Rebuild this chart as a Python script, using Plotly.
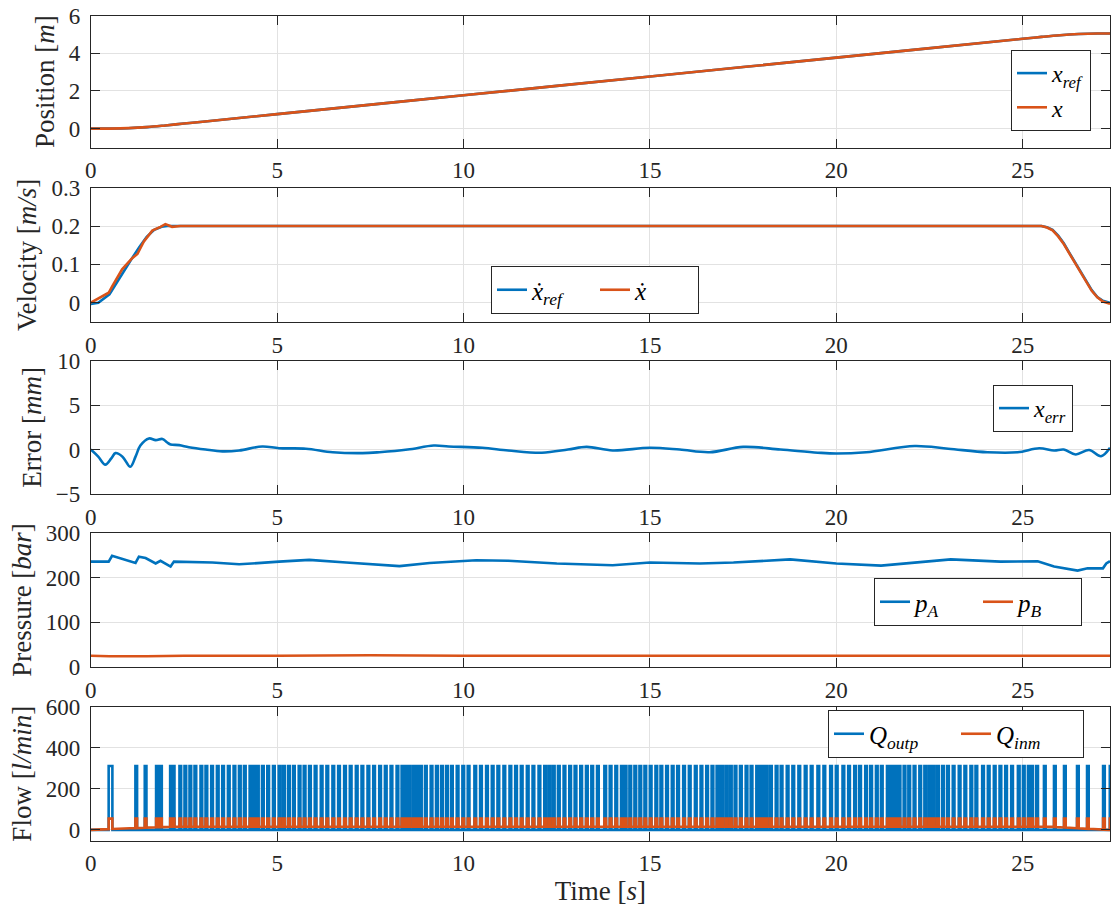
import numpy as np
import plotly.graph_objects as go

# ---------------- data ----------------
TIME_TICKS = [0, 5, 10, 15, 20, 25]

# Position [m]
t_pos = [0, 0.5, 1.0, 1.5, 2.0, 2.5, 3.0, 5.0, 10.0, 15.0, 20.0, 25.0, 25.5, 26.0, 26.5, 27.0, 27.34]
x_ref = [0, 0.004, 0.025, 0.08, 0.17, 0.27, 0.37, 0.77, 1.77, 2.77, 3.77, 4.77, 4.87, 4.96, 5.02, 5.05, 5.05]
x_meas = [0, 0.004, 0.026, 0.08, 0.17, 0.27, 0.37, 0.77, 1.77, 2.77, 3.77, 4.77, 4.87, 4.96, 5.02, 5.05, 5.05]

# Velocity [m/s]
t_vref = [0, 0.2, 0.5, 0.8, 1.1, 1.3, 1.5, 1.7, 1.9, 2.05, 25.5, 25.65, 25.8, 25.95, 26.1, 26.25,
          26.4, 26.55, 26.7, 26.85, 27.0, 27.15, 27.34]
v_ref = [-0.003, 0.0, 0.022, 0.07, 0.115, 0.145, 0.172, 0.19, 0.198, 0.2, 0.2, 0.197, 0.19, 0.175,
         0.155, 0.13, 0.105, 0.08, 0.055, 0.033, 0.015, 0.005, 0.0]
t_vel = [0, 0.48, 0.57, 0.84, 1.11, 1.25, 1.42, 1.65, 1.87, 2.0, 2.18, 2.4, 25.5, 25.65, 25.8, 25.95,
         26.1, 26.25, 26.4, 26.55, 26.7, 26.85, 27.0, 27.15, 27.34]
v_meas = [0, 0.026, 0.042, 0.087, 0.116, 0.127, 0.159, 0.188, 0.198, 0.205, 0.198, 0.2, 0.2, 0.196,
          0.189, 0.173, 0.153, 0.128, 0.103, 0.078, 0.053, 0.031, 0.014, 0.003, -0.003]

# Error [mm]
t_err = [0, 0.2, 0.39, 0.55, 0.66, 0.85, 1.06, 1.2, 1.33, 1.56, 1.74, 1.92, 2.05, 2.14, 2.37, 2.63,
         3.08, 3.53, 3.98, 4.6, 5.05, 5.77, 6.49, 7.29, 7.74, 8.5, 9.2, 9.6, 10.5, 11.2, 12.1, 12.8,
         13.3, 14.0, 15.0, 15.8, 16.6, 17.5, 18.5, 19.5, 20.0, 20.8, 22.1, 23.0, 24.05, 24.86, 25.44,
         25.84, 26.1, 26.42, 26.78, 27.1, 27.34]
x_err = [0, -0.8, -1.7, -1.0, -0.4, -0.8, -1.93, -0.8, 0.45, 1.25, 1.06, 1.2, 0.8, 0.57, 0.5, 0.27,
         0, -0.2, -0.1, 0.35, 0.15, 0.1, -0.3, -0.4, -0.3, 0, 0.45, 0.35, 0.2, -0.1, -0.35, 0,
         0.3, -0.1, 0.2, 0, -0.3, 0.3, 0, -0.35, -0.45, -0.3, 0.4, 0.1, -0.3, -0.3, 0.15,
         -0.1, 0, -0.55, -0.05, -0.75, 0.2]

# Pressure [bar]
t_pa = [0, 0.48, 0.57, 1.2, 1.29, 1.47, 1.74, 1.87, 2.14, 2.23, 3.26, 3.98, 5.05, 5.86, 6.85, 8.28,
        9.09, 10.34, 11.2, 12.5, 14.0, 15.0, 16.34, 17.24, 18.76, 20.0, 21.2, 23.07, 24.4, 25.4,
        25.84, 26.47, 26.74, 27.15, 27.24, 27.34]
p_a = [236, 236, 249, 233, 247, 244, 232, 238, 225, 236, 234, 230, 236, 240, 234, 226,
       233, 239, 238, 232, 228, 234, 232, 234, 241, 232, 227, 241, 236, 237,
       225, 216, 221, 221, 232, 237]
t_pb = [0, 0.5, 1.5, 2.5, 5, 7.5, 10, 12.5, 15, 17.5, 20, 22.5, 25, 26.5, 27.34]
p_b = [25, 24, 24, 25, 25, 26, 25, 25, 25, 25.5, 25, 25, 25, 26, 25]

# Flow [l/min]: valve pulse instants [s]
pulse_t = [0.529, 1.219, 1.470, 1.774, 1.882, 2.151, 2.222, 2.401, 2.536, 2.670, 2.805, 2.966, 3.100,
           3.253, 3.405, 3.548, 3.701, 3.853, 3.997, 4.131, 4.283, 4.373, 4.480, 4.615, 4.758, 4.910,
           5.063, 5.179, 5.313, 5.448, 5.600, 5.735, 5.878, 6.030, 6.192, 6.344, 6.505, 6.658, 6.819,
           6.971, 7.133, 7.285, 7.446, 7.599, 7.760, 7.912, 8.065, 8.226, 8.360, 8.450, 8.557, 8.674,
           8.763, 8.853, 8.987, 9.140, 9.283, 9.418, 9.552, 9.686, 9.839, 9.991, 10.134, 10.313,
           10.466, 10.627, 10.780, 10.932, 11.093, 11.255, 11.407, 11.559, 11.720, 11.873, 12.034,
           12.187, 12.303, 12.419, 12.554, 12.706, 12.858, 13.002, 13.154, 13.306, 13.450, 13.602,
           13.799, 13.943, 14.095, 14.247, 14.346, 14.471, 14.606, 14.740, 14.875, 15.018, 15.170,
           15.305, 15.457, 15.609, 15.753, 15.914, 16.066, 16.228, 16.380, 16.532, 16.676, 16.810,
           16.873, 16.935, 17.052, 17.168, 17.294, 17.437, 17.590, 17.724, 17.876, 17.948, 18.020,
           18.127, 18.244, 18.396, 18.530, 18.692, 18.844, 19.005, 19.176, 19.337, 19.516, 19.677,
           19.857, 20.009, 20.188, 20.340, 20.502, 20.636, 20.797, 20.932, 21.084, 21.218, 21.380,
           21.443, 21.505, 21.604, 21.694, 21.828, 21.954, 22.097, 22.249, 22.384, 22.500, 22.608,
           22.724, 22.859, 22.993, 23.145, 23.306, 23.459, 23.620, 23.755, 23.934, 24.086, 24.247,
           24.400, 24.552, 24.713, 24.892, 25.027, 25.161, 25.251, 25.385, 25.591, 25.860, 26.129,
           26.478, 26.747, 27.177, 27.357]
first_pulse_width = 0.10
q_outp_peak = 312
q_outp_base = 0
q_inm_peak = 55
q_inm_base_t = [0, 2.1, 25.8, 27.34]
q_inm_base = [0, 15, 15, -1]
pulse_width = 0.045

# ---------------- styling ----------------
BLUE = '#0072BD'
ORANGE = '#D95319'
AX = '#262626'
GRID = '#e2e2e2'
FONT = 'Liberation Serif, DejaVu Serif, serif'
W, H = 1111, 908
X_LEFT, X_RIGHT = 90.8, 1110
T_MAX = 27.34
LW = 2.6


def pulse_series(times, base_t, base_v, peak, width, first_width):
    xs, ys = [], []
    events = sorted([(t, 0, v) for t, v in zip(base_t, base_v)] +
                    [(t, 1, k) for k, t in enumerate(times)])
    for t, kind, v in events:
        if kind == 0:
            xs.append(t); ys.append(v)
        else:
            w = first_width if v == 0 else width
            a, b = t - w / 2, t + w / 2
            ba = float(np.interp(a, base_t, base_v))
            bb = float(np.interp(b, base_t, base_v))
            xs += [a, a, b, b]
            ys += [ba, peak, peak, bb]
    return xs, ys


fig = go.Figure()

def add(x, y, color, name, panel, legend, shape='linear'):
    sfx = '' if panel == 1 else str(panel)
    fig.add_trace(go.Scatter(x=x, y=y, mode='lines', name=name,
                             line=dict(color=color, width=LW, shape=shape),
                             xaxis='x' + sfx, yaxis='y' + sfx, legend=legend))

add(t_pos, x_ref, BLUE, '<i>x</i><sub><i>ref</i></sub>', 1, 'legend', 'spline')
add(t_pos, x_meas, ORANGE, '<i>x</i>', 1, 'legend', 'spline')
add(t_vref, v_ref, BLUE, '<i>ẋ</i><sub><i>ref</i></sub>', 2, 'legend2')
add(t_vel, v_meas, ORANGE, '<i>ẋ</i>', 2, 'legend2')
add(t_err, x_err, BLUE, '<i>x</i><sub><i>err</i></sub>', 3, 'legend3', 'spline')
add(t_pa, p_a, BLUE, '<i>p</i><sub><i>A</i></sub>', 4, 'legend4')
add(t_pb, p_b, ORANGE, '<i>p</i><sub><i>B</i></sub>', 4, 'legend4')
qx, qy = pulse_series(pulse_t, [0, T_MAX], [q_outp_base, q_outp_base], q_outp_peak,
                      pulse_width, first_pulse_width)
add(qx, qy, BLUE, '<i>Q</i><sub><i>outp</i></sub>', 5, 'legend5')
ix, iy = pulse_series(pulse_t, q_inm_base_t, q_inm_base, q_inm_peak, pulse_width, first_pulse_width)
add(ix, iy, ORANGE, '<i>Q</i><sub><i>inm</i></sub>', 5, 'legend5')

# panel pixel extents (top, bottom), y ranges, ticks, titles
panels = [
    (15.6, 147.5, [-1, 6], [0, 2, 4, 6], 'Position [<i>m</i>]'),
    (187.7, 321.9, [-0.05, 0.3], [0, 0.1, 0.2, 0.3], 'Velocity [<i>m/s</i>]'),
    (360.7, 494.0, [-5, 10], [-5, 0, 5, 10], 'Error [<i>mm</i>]'),
    (533.1, 666.9, [0, 300], [0, 100, 200, 300], 'Pressure [<i>bar</i>]'),
    (707.0, 840.5, [-52, 600], [0, 200, 400, 600], 'Flow [<i>l/min</i>]'),
]

tickfont = dict(family=FONT, size=23, color=AX)
titlefont = dict(family=FONT, size=27, color=AX)
layout = dict(template='none', width=W, height=H, margin=dict(l=0, r=0, t=0, b=0, autoexpand=False),
              font=dict(family=FONT, color=AX),
              paper_bgcolor='white', plot_bgcolor='white', showlegend=True)
for i, (top, bot, yr, yt, ttl) in enumerate(panels, start=1):
    sfx = '' if i == 1 else str(i)
    common = dict(showline=True, linecolor=AX, linewidth=1, mirror='ticks', ticks='inside',
                  ticklen=9, tickcolor=AX, tickwidth=1, showgrid=True, gridcolor=GRID,
                  gridwidth=1, zeroline=False, tickfont=tickfont, automargin=False)
    layout['xaxis' + sfx] = dict(common, domain=[X_LEFT / W, X_RIGHT / W], range=[0, T_MAX],
                                 tickvals=TIME_TICKS, anchor='y' + sfx, ticklabelstandoff=2)
    layout['yaxis' + sfx] = dict(common, domain=[1 - bot / H, 1 - top / H], range=yr,
                                 tickvals=yt, anchor='x' + sfx, ticklabelstandoff=5,
                                 title=dict(text=ttl, font=titlefont, standoff=6))
layout['xaxis5']['title'] = dict(text='Time [<i>s</i>]', font=titlefont, standoff=0)

def leg(x, y, xa, orient, size, ew=None):
    d = dict(x=x, y=y, xanchor=xa, yanchor='top', orientation=orient,
             font=dict(family=FONT, size=size, color='black'),
             bgcolor='white', bordercolor=AX, borderwidth=1, xref='paper', yref='paper',
             tracegroupgap=0, itemwidth=30)
    if ew is not None:
        d['entrywidth'] = ew
    return d

layout['legend'] = leg(1091 / W, 1 - 50 / H, 'right', 'v', 24)
layout['legend2'] = leg(595 / W, 1 - 266 / H, 'center', 'h', 25, 58)
layout['legend3'] = leg(1073 / W, 1 - 385 / H, 'right', 'v', 24)
layout['legend4'] = leg(1082 / W, 1 - 578 / H, 'right', 'h', 25, 58)
layout['legend5'] = leg(1084 / W, 1 - 710 / H, 'right', 'h', 25, 82)

fig.update_layout(**layout)
fig.write_html('out.html', config={'displayModeBar': False},
               post_script="document.body.style.margin='0';document.body.style.overflow='hidden';")
